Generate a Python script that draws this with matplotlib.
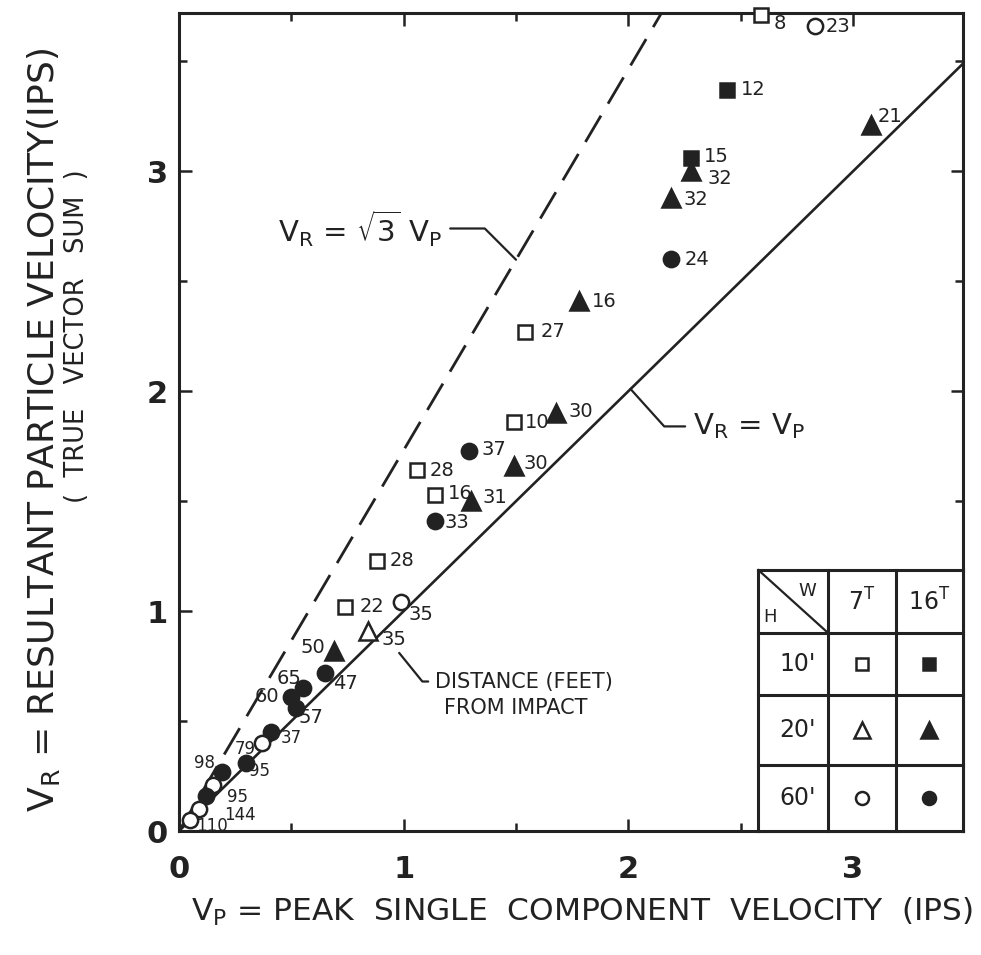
import numpy as np
import matplotlib.pyplot as plt
from matplotlib.patches import Rectangle

plt.rcParams['font.family'] = ['Liberation Sans Narrow', 'DejaVu Sans']

INK = '#222222'

# Peak single component velocity V_P (ips) and resultant velocity V_R (ips)
vp = [2.59, 2.83, 2.44, 3.08, 2.28, 2.28, 2.19, 2.19, 1.78, 1.54,
      1.49, 1.68, 1.29, 1.49, 1.06, 1.14, 1.30, 1.14, 0.88, 0.74,
      0.99, 0.84, 0.69, 0.65, 0.55, 0.50, 0.52, 0.41, 0.37, 0.30,
      0.19, 0.15, 0.12, 0.09, 0.05]
vr = [3.71, 3.66, 3.37, 3.21, 3.06, 3.00, 2.88, 2.60, 2.41, 2.27,
      1.86, 1.90, 1.73, 1.66, 1.64, 1.53, 1.50, 1.41, 1.23, 1.02,
      1.04, 0.91, 0.82, 0.72, 0.65, 0.61, 0.56, 0.45, 0.40, 0.31,
      0.27, 0.21, 0.16, 0.10, 0.05]
# distance from impact (feet), '' where not legible
distance = ['8', '23', '12', '21', '15', '32', '32', '24', '16', '27',
            '10', '30', '37', '30', '28', '16', '31', '33', '28', '22',
            '35', '35', '50', '47', '65', '60', '57', '37', '79', '95',
            '98', '', '95', '144', '110']
# drop weight (tons) and drop height (feet)
weight = [7, 7, 16, 16, 16, 16, 16, 16, 16, 7,
          7, 16, 16, 16, 7, 7, 16, 16, 7, 7,
          7, 7, 16, 16, 16, 16, 16, 16, 7, 16,
          16, 7, 16, 7, 7]
height = [10, 60, 10, 20, 10, 20, 20, 60, 20, 10,
          10, 20, 60, 20, 10, 10, 20, 60, 10, 10,
          60, 20, 20, 60, 60, 60, 60, 60, 60, 60,
          60, 60, 60, 60, 60]

weight_labels = [7, 16]
height_labels = [10, 20, 60]

# label placement next to each marker (points) and alignment
label_offsets = [(9, -6), (8, 0), (10, 0), (5, 6), (9, 1), (12, -5), (9, -1),
                 (10, 0), (9, 0), (11, 0), (8, 0), (9, 1), (9, 1), (7, 2),
                 (9, 0), (9, 1), (8, 3), (7, -1), (9, 0), (10, 0), (5, -9),
                 (10, -6), (-6, 2), (6, -8), (-1, 7), (-9, 0), (2, -7),
                 (7, -4), (-5, -4), (2, -6), (-5, 6), (0, 0), (15, -1),
                 (18, -4), (4, -4)]
left_labels = {'50', '65', '60', '79', '98'}

shapes = {10: 's', 20: '^', 60: 'o'}
sizes = {10: 10, 20: 13, 60: 11}
fills = {7: 'white', 16: INK}


def marker_style(w, h, scale=1.0):
    return dict(marker=shapes[h], markersize=sizes[h] * scale,
                markerfacecolor=fills[w], markeredgecolor=INK,
                markeredgewidth=1.8, linestyle='none')


fig = plt.figure(figsize=(9.81, 9.55), dpi=100)
ax = fig.add_axes([0.1825, 0.1298, 0.7992, 0.8566])
ax.set_xlim(0, 3.49)
ax.set_ylim(0, 3.72)

line_x = np.array([0.0, 3.49])
ax.plot(line_x, line_x, color=INK, lw=1.9, zorder=2)
ax.plot(line_x, np.sqrt(3) * line_x, color=INK, lw=2.0, dashes=(11, 5), zorder=2)

for x, y, d, w, h, off in zip(vp, vr, distance, weight, height, label_offsets):
    ax.plot([x], [y], zorder=4, clip_on=False, **marker_style(w, h))
    if d:
        small = y < 0.5
        ax.annotate(d, (x, y), xytext=off, textcoords='offset points',
                    ha='right' if d in left_labels else 'left', va='center',
                    fontsize=12 if small else 14, color=INK, zorder=5)

# reference lines annotations
ax.annotate(r'$\mathregular{V_R}$ = $\mathregular{\sqrt{3}}$ $\mathregular{V_P}$',
            xy=(1.50, np.sqrt(3) * 1.50), xytext=(1.17, 2.74),
            ha='right', va='center', fontsize=21, color=INK,
            arrowprops=dict(arrowstyle='-', lw=1.6, color=INK, shrinkA=4, shrinkB=0,
                            connectionstyle='angle,angleA=0,angleB=-45,rad=0'))
ax.annotate(r'$\mathregular{V_R}$ = $\mathregular{V_P}$',
            xy=(2.01, 2.01), xytext=(2.29, 1.84),
            ha='left', va='center', fontsize=21, color=INK,
            arrowprops=dict(arrowstyle='-', lw=1.6, color=INK, shrinkA=4, shrinkB=0,
                            connectionstyle='angle,angleA=0,angleB=-48,rad=0'))
ax.annotate('DISTANCE (FEET)', xy=(0.98, 0.81), xytext=(1.14, 0.68),
            ha='left', va='center', fontsize=15, color=INK,
            arrowprops=dict(arrowstyle='-', lw=1.6, color=INK, shrinkA=3, shrinkB=0,
                            connectionstyle='angle,angleA=0,angleB=-51,rad=0'))
ax.text(1.18, 0.56, 'FROM IMPACT', ha='left', va='center', fontsize=15, color=INK)

# key table in the lower right corner
col_edges = [0.739, 0.828, 0.914, 1.0]
row_edges = [0.319, 0.242, 0.166, 0.081, 0.0]
tk = dict(transform=ax.transAxes, color=INK, lw=2.2, clip_on=False, zorder=7)
ax.add_patch(Rectangle((col_edges[0], 0), 1 - col_edges[0], row_edges[0],
                       transform=ax.transAxes, facecolor='white', edgecolor='none', zorder=6))
for cx in col_edges:
    ax.plot([cx, cx], [row_edges[-1], row_edges[0]], **tk)
for ry in row_edges:
    ax.plot([col_edges[0], col_edges[-1]], [ry, ry], **tk)
ax.plot([col_edges[0], col_edges[1]], [row_edges[0], row_edges[1]],
        transform=ax.transAxes, color=INK, lw=1.6, zorder=7)

txt = dict(transform=ax.transAxes, color=INK, zorder=8, ha='center', va='center')
ax.text(0.801, 0.294, 'W', fontsize=13, **txt)
ax.text(0.754, 0.262, 'H', fontsize=13, **txt)
col_mid = [(a + b) / 2 for a, b in zip(col_edges[:-1], col_edges[1:])]
row_mid = [(a + b) / 2 for a, b in zip(row_edges[:-1], row_edges[1:])]
for j, w in enumerate(weight_labels):
    ax.text(col_mid[j + 1], row_mid[0], r'$\mathregular{%d^T}$' % w, fontsize=17, **txt)
for i, h in enumerate(height_labels):
    ax.text(col_mid[0] + 0.005, row_mid[i + 1], "%d'" % h, fontsize=17, **txt)
    for j, w in enumerate(weight_labels):
        ax.plot([col_mid[j + 1]], [row_mid[i + 1]], transform=ax.transAxes,
                zorder=8, **marker_style(w, h, 0.85))

# axes frame and ticks
for sp in ax.spines.values():
    sp.set_linewidth(2.2)
    sp.set_color(INK)
ax.set_xticks([0, 1, 2, 3])
ax.set_yticks([0, 1, 2, 3])
ax.set_xticks([0.5, 1.5, 2.5], minor=True)
ax.set_yticks([0.5, 1.5, 2.5, 3.5], minor=True)
ax.set_xticklabels(['0', '1', '2', '3'])
ax.set_yticklabels(['0', '1', '2', '3'])
ax.tick_params(which='both', direction='in', top=True, right=True,
               width=1.8, color=INK, labelcolor=INK, labelsize=22)
ax.tick_params(which='major', length=9)
ax.tick_params(which='minor', length=6)
ax.tick_params(axis='x', pad=17)
ax.tick_params(axis='y', pad=8)
for lab in ax.get_xticklabels() + ax.get_yticklabels():
    lab.set_fontweight('bold')

fig.text(0.044, 0.55, r'$\mathregular{V_R}$ = RESULTANT PARTICLE VELOCITY(IPS)',
         rotation=90, ha='center', va='center', fontsize=26, color=INK)
fig.text(0.078, 0.648, '(  TRUE   VECTOR   SUM  )', rotation=90,
         ha='center', va='center', fontsize=18.5, color=INK)
fig.text(0.593, 0.045, r'$\mathregular{V_P}$ = PEAK  SINGLE  COMPONENT  VELOCITY  (IPS)',
         ha='center', va='center', fontsize=22.5, color=INK)

fig.savefig('out.png', dpi=100, facecolor='white')
